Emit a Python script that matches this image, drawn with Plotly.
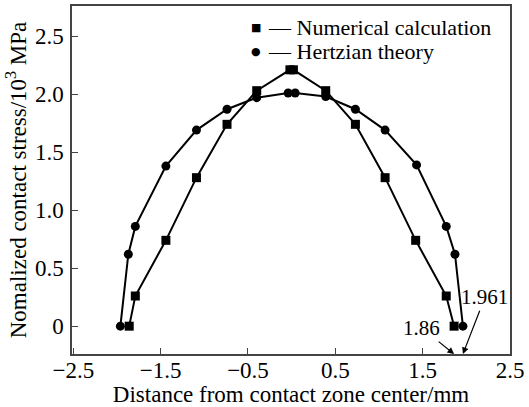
import plotly.graph_objects as go

# Contact stress profiles across the contact zone
num_x = [-1.86, -1.79, -1.44, -1.09, -0.74, -0.40, -0.02, 0.02, 0.39, 0.73, 1.07, 1.42, 1.77, 1.86]
num_y = [0, 0.26, 0.74, 1.28, 1.74, 2.03, 2.21, 2.21, 2.03, 1.74, 1.28, 0.74, 0.26, 0]

hz_x = [-1.961, -1.87, -1.79, -1.44, -1.09, -0.74, -0.40, -0.04, 0.04, 0.39, 0.73, 1.07, 1.43, 1.77, 1.87, 1.961]
hz_y = [0, 0.62, 0.86, 1.38, 1.69, 1.87, 1.97, 2.01, 2.01, 1.98, 1.87, 1.69, 1.39, 0.86, 0.62, 0]

x_ticks = [-2.5, -1.5, -0.5, 0.5, 1.5, 2.5]
y_ticks = [0, 0.5, 1.0, 1.5, 2.0, 2.5]
y_ticktext = ["0", "0.5", "1.0", "1.5", "2.0", "2.5"]

series_names = ["Numerical calculation", "Hertzian theory"]
series_keys = ["\u25A0", "\u25CF"]

FONT = "Liberation Serif"
FRAME = "#444444"
FS = 23

fig = go.Figure()

fig.add_trace(go.Scatter(
    x=num_x, y=num_y, mode="lines+markers", name=series_names[0], showlegend=False,
    line=dict(color="black", width=2),
    marker=dict(symbol="square", size=9, color="black"),
))
fig.add_trace(go.Scatter(
    x=hz_x, y=hz_y, mode="lines+markers", name=series_names[1], showlegend=False,
    line=dict(color="black", width=2),
    marker=dict(symbol="circle", size=9, color="black"),
))

# compact key in the upper right: symbol glyph, then dash and series name
key_rows = [0.938, 0.869]
for key, name, yy in zip(series_keys, series_names, key_rows):
    fig.add_annotation(x=0.420, y=yy, xref="paper", yref="paper", text=key,
                       showarrow=False, xanchor="center", yanchor="middle",
                       font=dict(family="DejaVu Sans", size=11, color="black"))
    fig.add_annotation(x=0.443, y=yy, xref="paper", yref="paper",
                       text="\u2014 " + name, showarrow=False,
                       xanchor="left", yanchor="middle",
                       font=dict(family=FONT, size=22, color="black"))

# half-width labels with arrows pointing at the bottom edge
fig.add_annotation(x=1.961, y=-0.24, ax=2.213, ay=0.25, xref="x", yref="y",
                   axref="x", ayref="y", text="1.961", showarrow=True,
                   arrowhead=2, arrowsize=1.1, arrowwidth=1.2, arrowcolor="black",
                   font=dict(family=FONT, size=21, color="black"))
fig.add_annotation(x=1.86, y=-0.24, ax=1.49, ay=-0.017, xref="x", yref="y",
                   axref="x", ayref="y", text="1.86", showarrow=True,
                   arrowhead=2, arrowsize=1.1, arrowwidth=1.2, arrowcolor="black",
                   font=dict(family=FONT, size=21, color="black"))

fig.update_layout(
    width=529, height=407,
    margin=dict(l=72, r=19, t=6, b=53),
    paper_bgcolor="white", plot_bgcolor="white",
    font=dict(family=FONT, size=FS, color="black"),
    showlegend=False,
    xaxis=dict(
        range=[-2.515, 2.5], tickvals=x_ticks,
        ticks="inside", ticklen=6, tickwidth=1.2, tickcolor=FRAME,
        showline=True, linecolor=FRAME, linewidth=1.5, mirror=True,
        showgrid=False, zeroline=False, automargin=False,
        ticklabelstandoff=-5,
        title=dict(text="Distance from contact zone center/mm", standoff=2,
                   font=dict(family=FONT, size=FS)),
        tickfont=dict(family=FONT, size=FS),
    ),
    yaxis=dict(
        range=[-0.24, 2.76], tickvals=y_ticks, ticktext=y_ticktext,
        ticks="inside", ticklen=6, tickwidth=1.2, tickcolor=FRAME,
        showline=True, linecolor=FRAME, linewidth=1.5, mirror=True,
        showgrid=False, zeroline=False, automargin=False,
        ticklabelstandoff=2,
        title=dict(text="Nomalized contact stress/10<sup>3</sup> MPa", standoff=2,
                   font=dict(family=FONT, size=FS)),
        tickfont=dict(family=FONT, size=FS),
    ),
)

fig.write_html("out.html")
